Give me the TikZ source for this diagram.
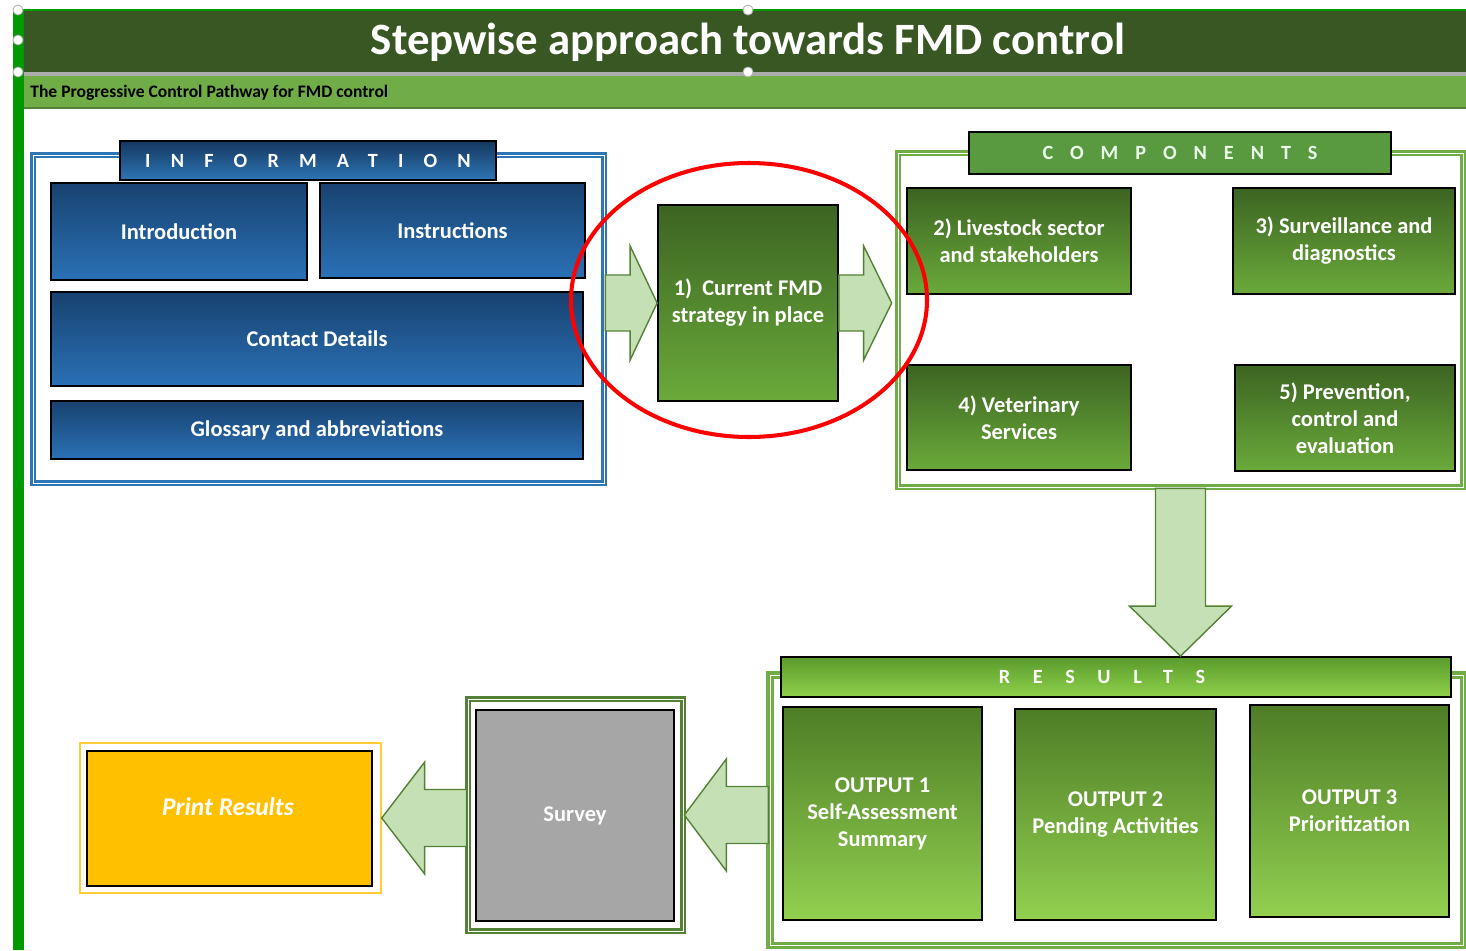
\documentclass[tikz,border=0pt]{standalone}
\usepackage{fontspec}
\setmainfont{Carlito}
\usetikzlibrary{calc}
\definecolor{hdgreen}{RGB}{56,87,35}
\definecolor{bandgreen}{RGB}{112,173,71}
\definecolor{edgegreen}{RGB}{0,153,0}
\definecolor{infoblue}{RGB}{46,117,182}
\definecolor{bluetop}{RGB}{24,66,112}
\definecolor{bluebot}{RGB}{42,113,182}
\definecolor{grntop}{RGB}{60,100,34}
\definecolor{grnbot}{RGB}{106,170,58}
\definecolor{bargreen}{RGB}{89,154,64}
\definecolor{restop}{RGB}{90,155,45}
\definecolor{resbot}{RGB}{143,209,75}
\definecolor{outtop}{RGB}{78,125,38}
\definecolor{outbot}{RGB}{146,208,80}
\definecolor{arrowfill}{RGB}{197,224,180}
\definecolor{arrowline}{RGB}{83,129,53}
\definecolor{printgold}{RGB}{255,192,0}
\begin{document}
\begin{tikzpicture}[x=0.02cm,y=-0.02cm,
  panel/.style 2 args={draw=black,line width=1pt,minimum width=#1*0.02cm,minimum height=#2*0.02cm,
    inner sep=0pt,align=center,text=white,font=\fontsize{12.8}{15.4}\selectfont\bfseries},
  bluebox/.style={top color=bluetop,bottom color=bluebot},
  greenbox/.style={top color=grntop,bottom color=grnbot},
  outbox/.style={top color=outtop,bottom color=outbot},
  framebox/.style n args={3}{draw=#1,double=white,double distance=0.4pt,line width=1.5pt,
    minimum width=#2*0.02cm,minimum height=#3*0.02cm,inner sep=0pt},
  spaced/.style={font=\fontsize{11.5}{13}\selectfont\bfseries\addfontfeature{LetterSpace=#1}},
  fat/.style n args={3}{fill=arrowfill,draw=arrowline,line width=0.8pt,line join=miter,
    to path={($(\tikztostart)!#1!90:(\tikztotarget)$)
      -- ($($(\tikztotarget)!#3!(\tikztostart)$)!#1!90:(\tikztotarget)$)
      -- ($($(\tikztotarget)!#3!(\tikztostart)$)!#2!90:(\tikztotarget)$)
      -- (\tikztotarget)
      -- ($($(\tikztotarget)!#3!(\tikztostart)$)!#2!-90:(\tikztotarget)$)
      -- ($($(\tikztotarget)!#3!(\tikztostart)$)!#1!-90:(\tikztotarget)$)
      -- ($(\tikztostart)!#1!-90:(\tikztotarget)$) -- cycle}}
]
\useasboundingbox[fill=white] (0,0) rectangle (1466,950);

\fill[hdgreen] (13,10) rectangle (1466,72);
\draw[edgegreen,line width=0.6pt] (13,10) -- (1466,10);
\fill[gray!65] (13,72) rectangle (1466,76);
\fill[bandgreen] (13,76) rectangle (1466,108);
\draw[arrowline,line width=0.6pt] (13,108) -- (1466,108);
\fill[edgegreen] (13,10) rectangle (24,950);
\node[text=white,font=\fontsize{25.5}{30}\selectfont\bfseries] (title) at (748,42) {Stepwise approach towards FMD control};
\node[anchor=west,inner sep=0pt,font=\fontsize{10}{12}\selectfont\bfseries] (subtitle) at (30,93) {The Progressive Control Pathway for FMD control};

\node[framebox={infoblue}{571}{328}] (infoframe) at (318.5,319) {};
\node[panel={376}{39},top color=bluetop!85!black,bottom color=infoblue,spaced=100] (infobar) at (308,160.5) {INFORMATION};
\node[panel={256}{97},bluebox] (intro) at (179,231.5) {Introduction};
\node[panel={265}{95},bluebox] (instr) at (452.5,230.5) {Instructions};
\node[panel={532}{94},bluebox] (contact) at (317,339) {Contact Details};
\node[panel={532}{58},bluebox] (gloss) at (317,430) {Glossary and abbreviations};

\node[panel={180}{196},greenbox] (s1) at (748,303) {1)~ Current FMD\\strategy in place};

\node[framebox={bandgreen}{565}{334}] (compframe) at (1180.5,320) {};
\node[panel={422}{42},fill=bargreen,spaced=84,text=white!92!green] (compbar) at (1180,153) {COMPONENTS};
\node[panel={224}{106},greenbox] (s2) at (1019,241) {2) Livestock sector\\and stakeholders};
\node[panel={222}{106},greenbox] (s3) at (1344,241) {3) Surveillance and\\diagnostics};
\node[panel={224}{105},greenbox] (s4) at (1019,417.5) {4) Veterinary\\Services};
\node[panel={220}{106},greenbox] (s5) at (1345,418) {5) Prevention,\\control and\\evaluation};

\node[framebox={bandgreen}{693}{270},line width=1.8pt] (resframe) at (1116.5,810) {};
\node[panel={670}{40},top color=restop,bottom color=resbot] (resbar) at (1116,677) {};
\node[text=white,spaced=112] (restitle) at (1102,677) {RESULTS};
\node[panel={199}{213},outbox] (o1) at (882.5,813.5) {OUTPUT 1\\Self-Assessment\\Summary};
\node[panel={201}{211},outbox] (o2) at (1115.5,814.5) {OUTPUT 2\\Pending Activities};
\node[panel={199}{212},outbox] (o3) at (1349.5,811) {OUTPUT 3\\Prioritization};

\node[framebox={arrowline}{215}{232}] (survey) at (575.5,815) {};
\node[panel={198}{211},fill=gray!70] (surveybox) at (575,815.5) {Survey};

\node[draw=printgold!80,line width=0.8pt,minimum width=301*0.02cm,minimum height=150*0.02cm] (print) at (230.5,818) {};
\node[panel={285}{135},fill=printgold] (printbox) at (229.5,818.5) {};
\node[text=white,font=\fontsize{14.5}{17}\selectfont\bfseries\itshape] (printlabel) at (228,807) {Print Results};

\coordinate (a1s) at (infoframe.east |- s1.west);
\path (compframe.west |- s1.east) ++(-5,0) coordinate (a2e);
\coordinate (a5e) at (compframe.south |- resbar.north);
\coordinate (a3s) at (resframe.west |- survey.east);
\coordinate (a4s) at (survey.west |- print.east);
\draw[fat={0.56cm}{1.14cm}{0.54cm}] (a1s) to (s1.west);
\draw[fat={0.56cm}{1.14cm}{0.56cm}] (s1.east) to (a2e);
\draw[fat={0.5cm}{1.02cm}{1.0cm}] (compframe.south) to (a5e);
\draw[fat={0.57cm}{1.12cm}{0.84cm}] (a3s) to (survey.east);
\draw[fat={0.57cm}{1.12cm}{0.86cm}] (a4s) to (print.east);

\draw[red,line width=2.3pt] (749,300) ellipse (178 and 137);
\foreach \p in {(18,10),(18,40),(18,72),(748,10),(748,72)}
  \draw[gray!60,fill=white,line width=0.5pt] \p circle (5);
\end{tikzpicture}
\end{document}
